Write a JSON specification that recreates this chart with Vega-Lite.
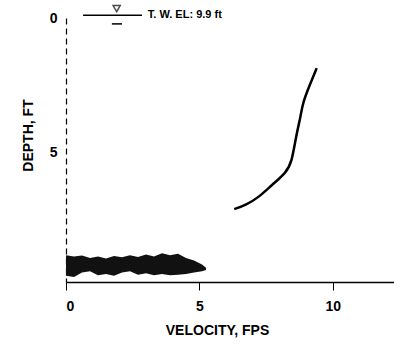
{
  "$schema": "https://vega.github.io/schema/vega-lite/v6.json",
  "width": 328,
  "height": 264,
  "autosize": {"type": "none"},
  "padding": {"left": 66, "top": 18, "right": 0, "bottom": 64},
  "background": "white",
  "config": {
    "view": {"stroke": null},
    "font": "Liberation Sans",
    "axis": {"grid": false, "domainColor": "black", "tickColor": "black", "labelColor": "black", "titleColor": "black", "labelFont": "Liberation Sans", "titleFont": "Liberation Sans", "labelFontWeight": "bold", "titleFontWeight": "bold"}
  },
  "datasets": {
    "profile": [
      {"v": 9.40, "d": 1.87, "o": 1},
      {"v": 9.12, "d": 2.55, "o": 2},
      {"v": 8.88, "d": 3.17, "o": 3},
      {"v": 8.81, "d": 3.62, "o": 4},
      {"v": 8.62, "d": 4.44, "o": 5},
      {"v": 8.47, "d": 5.37, "o": 6},
      {"v": 8.25, "d": 5.78, "o": 7},
      {"v": 7.72, "d": 6.23, "o": 8},
      {"v": 7.24, "d": 6.68, "o": 9},
      {"v": 6.75, "d": 6.98, "o": 10},
      {"v": 6.31, "d": 7.13, "o": 11}
    ],
    "bed": [
      {"v": 0.0, "top": 8.85, "bot": 9.62},
      {"v": 0.3, "top": 8.9, "bot": 9.66},
      {"v": 0.6, "top": 8.86, "bot": 9.5},
      {"v": 0.9, "top": 8.95, "bot": 9.45},
      {"v": 1.2, "top": 8.9, "bot": 9.6},
      {"v": 1.5, "top": 8.97, "bot": 9.55},
      {"v": 1.8, "top": 8.88, "bot": 9.62},
      {"v": 2.1, "top": 8.93, "bot": 9.5},
      {"v": 2.4, "top": 8.85, "bot": 9.45},
      {"v": 2.7, "top": 8.92, "bot": 9.58},
      {"v": 3.0, "top": 8.82, "bot": 9.52},
      {"v": 3.3, "top": 8.9, "bot": 9.6},
      {"v": 3.6, "top": 8.78, "bot": 9.55},
      {"v": 3.9, "top": 8.85, "bot": 9.6},
      {"v": 4.2, "top": 8.8, "bot": 9.58},
      {"v": 4.5, "top": 8.95, "bot": 9.55},
      {"v": 4.8, "top": 9.05, "bot": 9.5},
      {"v": 5.1, "top": 9.2, "bot": 9.45},
      {"v": 5.25, "top": 9.32, "bot": 9.4}
    ],
    "wl": [
      {"v": 0.64, "d": -0.1},
      {"v": 2.85, "d": -0.1}
    ],
    "wl2": [
      {"v": 1.72, "d": 0.22},
      {"v": 2.1, "d": 0.22}
    ],
    "tri": [{"v": 1.9, "d": -0.35}],
    "label": [{"v": 3.07, "d": -0.12, "t": "T. W. EL: 9.9 ft"}]
  },
  "layer": [
    {
      "data": {"name": "bed"},
      "mark": {"type": "area", "color": "#111", "interpolate": "linear"},
      "encoding": {
        "x": {"field": "v", "type": "quantitative", "scale": {"domain": [0, 12.3], "nice": false, "zero": false},
          "axis": {"values": [0, 5, 10], "title": "VELOCITY, FPS", "tickSize": 8, "labelPadding": 9, "labelFontSize": 14, "titleFontSize": 14, "titlePadding": 10, "titleX": 151, "domainWidth": 1.5, "tickWidth": 1}},
        "y": {"field": "top", "type": "quantitative", "scale": {"domain": [0, 9.85], "reverse": true, "nice": false, "zero": false},
          "axis": {"values": [0, 5], "title": "DEPTH, FT", "tickSize": 0, "labelPadding": 9, "labelFontSize": 14, "titleFontSize": 14, "titlePadding": 14, "titleY": 117, "domainDash": [6, 4], "domainWidth": 1.2}},
        "y2": {"field": "bot"}
      }
    },
    {
      "data": {"name": "profile"},
      "mark": {"type": "line", "color": "black", "strokeWidth": 2.5, "interpolate": "basis"},
      "encoding": {
        "x": {"field": "v", "type": "quantitative"},
        "y": {"field": "d", "type": "quantitative"},
        "order": {"field": "o", "type": "quantitative"}
      }
    },
    {
      "data": {"name": "wl"},
      "mark": {"type": "line", "color": "black", "strokeWidth": 1.5, "clip": false},
      "encoding": {
        "x": {"field": "v", "type": "quantitative"},
        "y": {"field": "d", "type": "quantitative"}
      }
    },
    {
      "data": {"name": "wl2"},
      "mark": {"type": "line", "color": "black", "strokeWidth": 1.5, "clip": false},
      "encoding": {
        "x": {"field": "v", "type": "quantitative"},
        "y": {"field": "d", "type": "quantitative"}
      }
    },
    {
      "data": {"name": "tri"},
      "mark": {"type": "point", "shape": "triangle-down", "color": "black", "filled": false, "strokeWidth": 1.5, "size": 50, "clip": false},
      "encoding": {
        "x": {"field": "v", "type": "quantitative"},
        "y": {"field": "d", "type": "quantitative"}
      }
    },
    {
      "data": {"name": "label"},
      "mark": {"type": "text", "align": "left", "baseline": "middle", "fontSize": 11, "fontWeight": "bold", "color": "black", "clip": false},
      "encoding": {
        "x": {"field": "v", "type": "quantitative"},
        "y": {"field": "d", "type": "quantitative"},
        "text": {"field": "t"}
      }
    }
  ]
}
